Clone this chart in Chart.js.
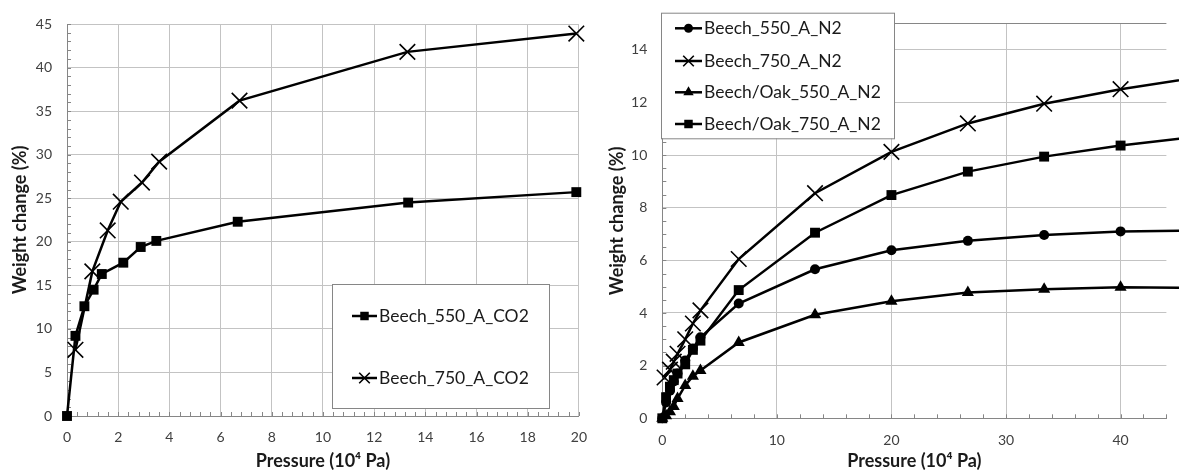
<!DOCTYPE html>
<html>
<head>
<meta charset="utf-8">
<script src="https://cdn.jsdelivr.net/npm/chart.js@4.4.1/dist/chart.umd.min.js"></script>
<style>
    html, body { margin: 0; padding: 0; background: #fff; }
    #wrap { position: relative; width: 1179px; height: 470px; overflow: hidden; }
    canvas { position: absolute; top: 0; }
    #chart-co2 { left: 0; }
    #chart-n2 { left: 590px; }
</style>
</head>
<body>
<div id="wrap">
    <canvas id="chart-co2" width="600" height="470"></canvas>
    <canvas id="chart-n2" width="589" height="470"></canvas>
</div>
<script>
// ─── Data ──────────────────────────────────────────────────

// CO2 adsorption (pressure in 10^4 Pa, weight change in %)
const co2Pressure550 = [0, 0.33, 0.68, 1.04, 1.36, 2.2, 2.88, 3.49, 6.67, 13.33, 19.9];
const co2Beech550    = [0, 9.2, 12.6, 14.5, 16.3, 17.6, 19.4, 20.1, 22.3, 24.5, 25.7];
const co2Pressure750 = [0.33, 0.99, 1.59, 2.1, 2.93, 3.6, 6.74, 13.3, 19.9];
const co2Beech750    = [7.6, 16.6, 21.3, 24.6, 26.8, 29.2, 36.2, 41.8, 43.9];

// N2 adsorption; the 750 °C beech run has no zero point
const n2Pressure     = [0, 0.33, 0.67, 1, 1.33, 2, 2.67, 3.33, 6.67, 13.33, 20, 26.67, 33.33, 40, 46.67];
const n2Pressure750  = [0.2, 0.67, 1, 1.33, 2, 2.67, 3.33, 6.67, 13.33, 20, 26.67, 33.33, 40, 46.67];
const n2Beech550     = [0, 0.6, 1.05, 1.4, 1.7, 2.2, 2.65, 3.08, 4.36, 5.66, 6.38, 6.74, 6.96, 7.1, 7.13];
const n2Beech750     = [1.55, 1.85, 2.15, 2.45, 3.0, 3.6, 4.1, 6.05, 8.55, 10.12, 11.2, 11.95, 12.5, 12.95];
const n2BeechOak550  = [0, 0.1, 0.25, 0.45, 0.75, 1.25, 1.6, 1.82, 2.88, 3.93, 4.45, 4.78, 4.9, 4.98, 4.95];
const n2BeechOak750  = [0, 0.8, 1.2, 1.45, 1.7, 2.05, 2.6, 2.95, 4.87, 7.05, 8.48, 9.37, 9.94, 10.36, 10.7];

// Tick labels
const co2XTicks = [0, 2, 4, 6, 8, 10, 12, 14, 16, 18, 20];
const co2YTicks = [0, 5, 10, 15, 20, 25, 30, 35, 40, 45];
const n2XTicks  = [0, 10, 20, 30, 40];
const n2YTicks  = [0, 2, 4, 6, 8, 10, 12, 14];

// ─── Styling ───────────────────────────────────────────────

const FONT = 'Lato, "Open Sans", sans-serif';
const GRID = '#c3c3c3';
const AXIS = '#868686';

const MARKERS = {
    square:   { pointStyle: 'rect', pointRadius: 7, pointBorderWidth: 0, legendRadius: 6 },
    cross:    { pointStyle: 'crossRot', pointRadius: 11, pointBorderWidth: 1.6, legendRadius: 7.5 },
    circle:   { pointStyle: 'circle', pointRadius: 5, pointBorderWidth: 0, legendRadius: 4.5 },
    triangle: { pointStyle: 'triangle', pointRadius: 7, pointBorderWidth: 0, legendRadius: 6 },
};

function series(label, xs, ys, marker) {
    return Object.assign({
        label,
        data: xs.map((x, i) => ({ x, y: ys[i] })),
        showLine: true,
        clip: false,
        borderColor: '#000',
        backgroundColor: '#000',
        borderWidth: 2.5,
        pointBackgroundColor: '#000',
        pointBorderColor: '#000',
        pointHoverRadius: 0,
    }, MARKERS[marker]);
}

// small inside tick marks between the gridlines
const minorTicks = {
    id: 'minorTicks',
    beforeDatasetsDraw(chart, args, opts) {
        const { ctx, chartArea: area, scales: { x, y } } = chart;
        ctx.save();
        ctx.strokeStyle = AXIS;
        ctx.lineWidth = 1;
        ctx.beginPath();
        for (let i = 0; i * opts.xStep <= x.max + 1e-9; i++) {
            const px = Math.round(x.getPixelForValue(i * opts.xStep)) + 0.5;
            ctx.moveTo(px, area.bottom);
            ctx.lineTo(px, area.bottom - opts.len);
        }
        for (let i = 0; i * opts.yStep <= y.max + 1e-9; i++) {
            const py = Math.round(y.getPixelForValue(i * opts.yStep)) + 0.5;
            ctx.moveTo(area.left, py);
            ctx.lineTo(area.left + opts.len, py);
        }
        ctx.stroke();
        ctx.restore();
    },
};

// framed legend sitting inside the plot
const boxLegend = {
    id: 'boxLegend',
    afterDraw(chart, args, opts) {
        const { ctx } = chart;
        ctx.save();
        ctx.fillStyle = '#fff';
        ctx.fillRect(opts.left, opts.top, opts.width, opts.height);
        ctx.strokeStyle = AXIS;
        ctx.lineWidth = 1;
        ctx.strokeRect(opts.left + 0.5, opts.top + 0.5, opts.width, opts.height);

        chart.data.datasets.forEach((ds, i) => {
            const cy = opts.rows[i];
            ctx.strokeStyle = '#000';
            ctx.fillStyle = '#000';
            ctx.lineWidth = 2.5;
            ctx.beginPath();
            ctx.moveTo(opts.lineFrom, cy);
            ctx.lineTo(opts.lineTo, cy);
            ctx.stroke();
            ctx.lineWidth = ds.pointBorderWidth;
            Chart.helpers.drawPoint(ctx, {
                pointStyle: ds.pointStyle,
                radius: ds.legendRadius,
                borderWidth: ds.pointBorderWidth,
                rotation: 0,
            }, (opts.lineFrom + opts.lineTo) / 2, cy);

            ctx.fillStyle = '#1a1a1a';
            ctx.font = `${opts.fontSize}px ${FONT}`;
            ctx.textBaseline = 'middle';
            ctx.fillText(ds.label, opts.lineTo + 2, cy);
        });
        ctx.restore();
    },
};

function linearAxis(cfg) {
    return {
        type: 'linear',
        min: cfg.min,
        max: cfg.max,
        afterBuildTicks: axis => {
            axis.ticks = axis.ticks.filter(t => cfg.ticks.includes(t.value) || t.value === cfg.edge);
        },
        afterFit: axis => {
            if (axis.isHorizontal()) axis.height = cfg.size;
            else axis.width = cfg.size;
        },
        grid: {
            color: ctx => (ctx.tick && ctx.tick.value === cfg.edge ? AXIS : GRID),
            lineWidth: 1,
            drawTicks: false,
        },
        border: { color: AXIS, width: 1 },
        ticks: {
            stepSize: cfg.step,
            padding: cfg.padding,
            color: '#404040',
            font: { family: FONT, size: 14 },
            callback: v => (cfg.ticks.includes(v) ? v : ''),
        },
        title: {
            display: true,
            text: cfg.title,
            color: '#1a1a1a',
            font: { family: FONT, size: 18, weight: 'bold', lineHeight: 1 },
            padding: cfg.titlePadding,
        },
    };
}

const commonOptions = {
    responsive: false,
    animation: false,
    events: [],
    plugins: { legend: { display: false }, tooltip: { enabled: false } },
};

// ─── CO2 chart ─────────────────────────────────────────────

new Chart(document.getElementById('chart-co2'), {
    type: 'scatter',
    data: {
        datasets: [
            series('Beech_550_A_CO2', co2Pressure550, co2Beech550, 'square'),
            series('Beech_750_A_CO2', co2Pressure750, co2Beech750, 'cross'),
        ],
    },
    options: {
        ...commonOptions,
        layout: { padding: { top: 24, right: 15, bottom: 0, left: 0 } },
        plugins: {
            ...commonOptions.plugins,
            minorTicks: { xStep: 0.4, yStep: 1, len: 4 },
            boxLegend: {
                left: 332, top: 284, width: 217, height: 124,
                rows: [316, 378], lineFrom: 352, lineTo: 377, fontSize: 17.5,
            },
        },
        scales: {
            x: linearAxis({
                min: 0, max: 20, step: 2, ticks: co2XTicks, size: 54, padding: 13,
                title: 'Pressure (10⁴ Pa)', titlePadding: { top: 0, bottom: 0 },
            }),
            y: linearAxis({
                min: 0, max: 45, step: 5, ticks: co2YTicks, size: 67, padding: 15,
                title: 'Weight change (%)', titlePadding: { top: 11, bottom: 0 },
            }),
        },
    },
    plugins: [minorTicks, boxLegend],
});

// ─── N2 chart ──────────────────────────────────────────────

new Chart(document.getElementById('chart-n2'), {
    type: 'scatter',
    data: {
        datasets: [
            series('Beech_550_A_N2', n2Pressure, n2Beech550, 'circle'),
            series('Beech_750_A_N2', n2Pressure750, n2Beech750, 'cross'),
            series('Beech/Oak_550_A_N2', n2Pressure, n2BeechOak550, 'triangle'),
            series('Beech/Oak_750_A_N2', n2Pressure, n2BeechOak750, 'square'),
        ],
    },
    options: {
        ...commonOptions,
        layout: { padding: { top: 20.7, right: 0, bottom: 0, left: 0 } },
        plugins: {
            ...commonOptions.plugins,
            minorTicks: { xStep: 2, yStep: 0.5, len: 4 },
            boxLegend: {
                left: 71, top: 12.7, width: 233, height: 125.6,
                rows: [28.3, 61, 92.3, 124], lineFrom: 85, lineTo: 112, fontSize: 17.5,
            },
        },
        scales: {
            x: linearAxis({
                min: 0, max: 44, step: 10, ticks: n2XTicks, size: 51.7, padding: 14,
                title: 'Pressure (10⁴ Pa)', titlePadding: { top: 0, bottom: 0 },
            }),
            y: linearAxis({
                min: 0, max: 15, step: 2, ticks: n2YTicks, size: 72.3, padding: 15, edge: 15,
                title: 'Weight change (%)', titlePadding: { top: 18, bottom: 0 },
            }),
        },
    },
    plugins: [minorTicks, boxLegend],
});
</script>
</body>
</html>
